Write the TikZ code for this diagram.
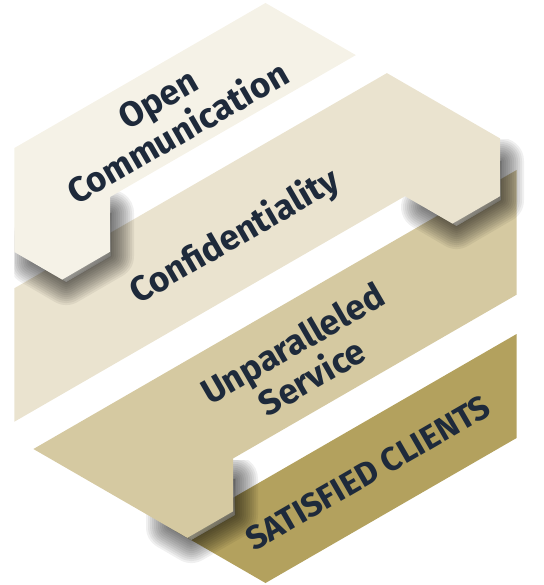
\documentclass[tikz,border=0pt]{standalone}
\usepackage{fontspec}
\setmainfont{Fira Sans}
\definecolor{bandA}{HTML}{F5F2E7}
\definecolor{bandB}{HTML}{EAE3CF}
\definecolor{bandC}{HTML}{D5C9A1}
\definecolor{bandD}{HTML}{B3A15E}
\definecolor{ink}{HTML}{1E2A3B}
\definecolor{shade}{HTML}{222C3E}
\newcommand\tabshadow[1]{%
  \fill[shade, opacity=0.06, shift={(4,7)}] #1;
  \foreach \w in {46,42,...,2}{%
    \draw[shade, opacity=0.06, line width=\w pt, line join=round, shift={(4,7)}] #1;}}
\tikzset{
  bandtext/.style={text=ink, font=\bfseries\fontsize{35}{39}\selectfont, rotate=30, align=center, inner sep=0pt},
}
\begin{document}
\begin{tikzpicture}[x=1pt,y=-1pt]
\useasboundingbox (0,0) rectangle (543,585);
% band 4
\fill[bandD] (516.6,334) -- (516.6,438) -- (265.5,583) -- (175.5,531) -- cycle;
% band 3
\begin{scope}
\clip (130,460) rectangle (300,585);
\tabshadow{(231,472) -- (231,508) -- (187.3,533) -- (165,520) -- (165,490) -- cycle}
\end{scope}
\fill[bandC] (33.4,449) -- (516.6,170) -- (516.6,294.7) -- (233,458.5) -- (233,511.4) -- (187.3,537.8) -- cycle;
% band 2
\begin{scope}
\clip (395,140) rectangle (543,270);
\tabshadow{(440,160) -- (497,154) -- (497,193) -- (452.5,219) -- (420,200) -- cycle}
\end{scope}
\fill[bandB] (14.4,288.2) -- (386.9,73.1) -- (500,138.4) -- (500,196.2) -- (452.5,223.6) -- (405,196.2) -- (14.4,421.7) -- cycle;
% band 1
\begin{scope}
\clip (14.4,190) rectangle (160,320);
\tabshadow{(107,206) -- (107,249) -- (62.2,275) -- (28,255) -- (28,236) -- cycle}
\end{scope}
\fill[bandA] (14.4,148) -- (265.5,3) -- (355.8,55.1) -- (110,197) -- (110,251.8) -- (62.2,279.6) -- (14.4,252) -- cycle;
% texts
\node[bandtext] (open) at (168,116) {Open\\Communication};
\node[bandtext] (conf) at (235,237) {Confidentiality};
\node[bandtext] (unpar) at (302,360) {Unparalleled\\Service};
\node[bandtext, font=\bfseries\fontsize{33}{38}\selectfont] (sat) at (368,473) {SATISFIED CLIENTS};
\end{tikzpicture}
\end{document}
